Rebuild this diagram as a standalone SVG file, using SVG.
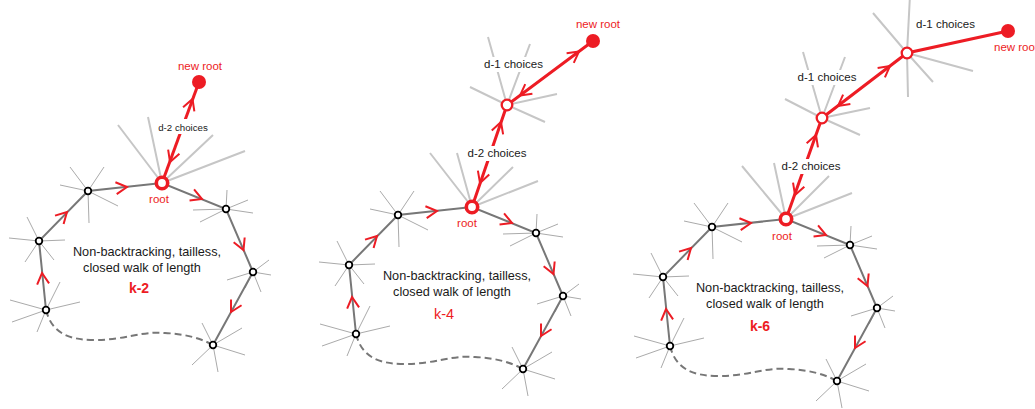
<svg xmlns="http://www.w3.org/2000/svg" xmlns:xlink="http://www.w3.org/1999/xlink" width="1035" height="409" viewBox="0 0 1035 409">
<style>
.edge{stroke:#777;stroke-width:2;fill:none}
.dash{stroke:#777;stroke-width:2;fill:none;stroke-dasharray:7,4}
.spk{stroke:#aaa;stroke-width:1;fill:none}
.rspk{stroke:#c6c6c6;stroke-width:2;fill:none}
.red{stroke:#ed1c24;stroke-width:3;fill:none}
.chev{fill:none;stroke:#ed1c24;stroke-width:2}
.node{fill:#fff;stroke:#000;stroke-width:1.8}
.ring{fill:#fff;stroke:#ed1c24;stroke-width:3.6}
.ring2{fill:#fff;stroke:#ed1c24;stroke-width:2.3}
.nr{fill:#ed1c24}
.t{font-family:"Liberation Sans",Arial,sans-serif;fill:#1a1a1a;font-size:12.7px;text-anchor:middle}
.lab{font-family:"Liberation Sans",Arial,sans-serif;fill:#1a1a1a;font-size:11.5px;text-anchor:middle}
.rt{font-family:"Liberation Sans",Arial,sans-serif;fill:#ed1c24;font-size:11.5px;text-anchor:middle}
.k{font-family:"Liberation Sans",Arial,sans-serif;fill:#ed1c24;font-size:14px;font-weight:bold;text-anchor:middle}
.bg{fill:#fff}
</style>
<defs>
<path id="chev" class="chev" d="M-11,-6 L0,0 L-11,6"/>
</defs>

<!-- ============ PANEL 1 ============ -->
<g id="panel1">
  <g id="p1-connectors">
    <path class="rspk" d="M162,183 L118,125 M162,183 L148,117 M162,183 L213,135 M162,183 L245,151"/>
    <line class="red" x1="162" y1="183" x2="199" y2="82"/>
    <use xlink:href="#chev" transform="translate(192.5,99) rotate(-69.9)"/>
    <use xlink:href="#chev" transform="translate(170,162) rotate(110.1)"/>
  </g>
  <g id="p1-loop">
    <g id="p1-loop-edges">
      <path class="spk" d="M88,191L60,185M88,191L70,167M88,191L104,167M88,191L118,206M88,191L89,223
        M39,241L9,238M39,241L27,217M39,241L65,240M39,241L54,260M39,241L25,262
        M46,310L10,300M46,310L60,282M46,310L80,302M46,310L12,322M46,310L37,332
        M226,209L193,210M226,209L200,222M226,209L227,190M226,209L248,200M226,209L253,213
        M253,272L227,280M253,272L269,260M253,272L271,275M253,272L261,292M253,272L245,288
        M213,345L202,323M213,345L242,328M213,345L245,355M213,345L218,372M213,345L192,365"/>
      <path class="edge" d="M46,310L39,241L88,191L162,183L226,209L253,272L213,345"/>
      <path class="dash" d="M46,310 C52,334 70,340 95,340 C125,340 140,331 165,333 C185,334 200,338 213,345"/>
      <use xlink:href="#chev" transform="translate(42,273) rotate(-95.8)"/>
      <use xlink:href="#chev" transform="translate(67,212) rotate(-45.6)"/>
      <use xlink:href="#chev" transform="translate(127,187) rotate(-6.2)"/>
      <use xlink:href="#chev" transform="translate(202,199) rotate(22.1)"/>
      <use xlink:href="#chev" transform="translate(243.5,250) rotate(66.8)"/>
      <use xlink:href="#chev" transform="translate(231,312) rotate(118.7)"/>
    </g>
    <g id="p1-a"><circle class="node" cx="88" cy="191" r="3.3"/></g>
    <g id="p1-b"><circle class="node" cx="39" cy="241" r="3.3"/></g>
    <g id="p1-c"><circle class="node" cx="46" cy="310" r="3.3"/></g>
    <g id="p1-r1"><circle class="node" cx="226" cy="209" r="3.3"/></g>
    <g id="p1-r2"><circle class="node" cx="253" cy="272" r="3.3"/></g>
    <g id="p1-br"><circle class="node" cx="213" cy="345" r="3.3"/></g>
    <text class="t" x="147" y="256">Non-backtracking, tailless,</text>
    <text class="t" x="142" y="272">closed walk of length</text>
    <text class="k" x="139" y="293">k-2</text>
  </g>
  <g id="p1-label">
    <rect class="bg" x="157" y="119" width="52" height="15"/>
    <text class="lab" x="183" y="131" style="font-size:9.7px">d-2 choices</text>
  </g>
  <g id="p1-root"><circle class="ring" cx="162" cy="183" r="5.7"/><text class="rt" x="159" y="203">root</text></g>
  <g id="p1-newroot"><circle class="nr" cx="199" cy="82" r="7"/><text class="rt" x="200" y="70">new root</text></g>
</g>

<!-- ============ PANEL 2 ============ -->
<g id="panel2">
  <g id="p2-connectors">
    <path class="rspk" d="M472,207L430,153M472,207L457,153M472,207L513,167M472,207L538,181
      M507,105L488,37M507,105L530,44M507,105L470,87M507,105L557,94M507,105L545,122"/>
    <path class="red" d="M472,207L507,105L593,41"/>
    <use xlink:href="#chev" transform="translate(501,122) rotate(-71.1)"/>
    <use xlink:href="#chev" transform="translate(480,183) rotate(108.9)"/>
    <use xlink:href="#chev" transform="translate(579,51.5) rotate(-36.7)"/>
    <use xlink:href="#chev" transform="translate(520,95.5) rotate(143.3)"/>
  </g>
  <g id="p2-loop" transform="translate(310,24)">
    <g id="p2-loop-edges">
      <path class="spk" d="M88,191L60,185M88,191L70,167M88,191L104,167M88,191L118,206M88,191L89,223
        M39,241L9,238M39,241L27,217M39,241L65,240M39,241L54,260M39,241L25,262
        M46,310L10,300M46,310L60,282M46,310L80,302M46,310L12,322M46,310L37,332
        M226,209L193,210M226,209L200,222M226,209L227,190M226,209L248,200M226,209L253,213
        M253,272L227,280M253,272L269,260M253,272L271,275M253,272L261,292M253,272L245,288
        M213,345L202,323M213,345L242,328M213,345L245,355M213,345L218,372M213,345L192,365"/>
      <path class="edge" d="M46,310L39,241L88,191L162,183L226,209L253,272L213,345"/>
      <path class="dash" d="M46,310 C52,334 70,340 95,340 C125,340 140,331 165,333 C185,334 200,338 213,345"/>
      <use xlink:href="#chev" transform="translate(42,273) rotate(-95.8)"/>
      <use xlink:href="#chev" transform="translate(67,212) rotate(-45.6)"/>
      <use xlink:href="#chev" transform="translate(127,187) rotate(-6.2)"/>
      <use xlink:href="#chev" transform="translate(202,199) rotate(22.1)"/>
      <use xlink:href="#chev" transform="translate(243.5,250) rotate(66.8)"/>
      <use xlink:href="#chev" transform="translate(231,312) rotate(118.7)"/>
    </g>
    <g id="p2-a"><circle class="node" cx="88" cy="191" r="3.3"/></g>
    <g id="p2-b"><circle class="node" cx="39" cy="241" r="3.3"/></g>
    <g id="p2-c"><circle class="node" cx="46" cy="310" r="3.3"/></g>
    <g id="p2-r1"><circle class="node" cx="226" cy="209" r="3.3"/></g>
    <g id="p2-r2"><circle class="node" cx="253" cy="272" r="3.3"/></g>
    <g id="p2-br"><circle class="node" cx="213" cy="345" r="3.3"/></g>
    <text class="t" x="147" y="256">Non-backtracking, tailless,</text>
    <text class="t" x="142" y="272">closed walk of length</text>
    <text class="k" x="134" y="295" style="font-weight:normal;font-size:14.5px">k-4</text>
  </g>
  <g id="p2-labels">
    <rect class="bg" x="467" y="146" width="60" height="15"/>
    <text class="lab" x="497" y="157">d-2 choices</text>
    <rect class="bg" x="483" y="57" width="61" height="15"/>
    <text class="lab" x="513.5" y="68">d-1 choices</text>
  </g>
  <g id="p2-root"><circle class="ring" cx="472" cy="207" r="5.7"/><text class="rt" x="467" y="227">root</text></g>
  <g id="p2-mid"><circle class="ring2" cx="507" cy="105" r="5.3"/></g>
  <g id="p2-newroot"><circle class="nr" cx="593" cy="41" r="7"/><text class="rt" x="598" y="28">new root</text></g>
</g>

<!-- ============ PANEL 3 ============ -->
<g id="panel3">
  <g id="p3-connectors">
    <path class="rspk" d="M786,219L742,166M786,219L774,163M786,219L829,176M786,219L852,193
      M822,118L803,52M822,118L845,57M822,118L785,99M822,118L870,108M822,118L860,135
      M907,53L873,13M907,53L910,-5M907,53L973,71M907,53L933,82M907,53L908,97"/>
    <path class="red" d="M786,219L822,118L907,53L1008,31"/>
    <use xlink:href="#chev" transform="translate(816,135) rotate(-70.4)"/>
    <use xlink:href="#chev" transform="translate(795,195) rotate(109.6)"/>
    <use xlink:href="#chev" transform="translate(890,66) rotate(-37.4)"/>
    <use xlink:href="#chev" transform="translate(838,106) rotate(142.6)"/>
  </g>
  <g id="p3-loop" transform="translate(624,36)">
    <g id="p3-loop-edges">
      <path class="spk" d="M88,191L60,185M88,191L70,167M88,191L104,167M88,191L118,206M88,191L89,223
        M39,241L9,238M39,241L27,217M39,241L65,240M39,241L54,260M39,241L25,262
        M46,310L10,300M46,310L60,282M46,310L80,302M46,310L12,322M46,310L37,332
        M226,209L193,210M226,209L200,222M226,209L227,190M226,209L248,200M226,209L253,213
        M253,272L227,280M253,272L269,260M253,272L271,275M253,272L261,292M253,272L245,288
        M213,345L202,323M213,345L242,328M213,345L245,355M213,345L218,372M213,345L192,365"/>
      <path class="edge" d="M46,310L39,241L88,191L162,183L226,209L253,272L213,345"/>
      <path class="dash" d="M46,310 C52,334 70,340 95,340 C125,340 140,331 165,333 C185,334 200,338 213,345"/>
      <use xlink:href="#chev" transform="translate(42,273) rotate(-95.8)"/>
      <use xlink:href="#chev" transform="translate(67,212) rotate(-45.6)"/>
      <use xlink:href="#chev" transform="translate(127,187) rotate(-6.2)"/>
      <use xlink:href="#chev" transform="translate(202,199) rotate(22.1)"/>
      <use xlink:href="#chev" transform="translate(243.5,250) rotate(66.8)"/>
      <use xlink:href="#chev" transform="translate(231,312) rotate(118.7)"/>
    </g>
    <g id="p3-a"><circle class="node" cx="88" cy="191" r="3.3"/></g>
    <g id="p3-b"><circle class="node" cx="39" cy="241" r="3.3"/></g>
    <g id="p3-c"><circle class="node" cx="46" cy="310" r="3.3"/></g>
    <g id="p3-r1"><circle class="node" cx="226" cy="209" r="3.3"/></g>
    <g id="p3-r2"><circle class="node" cx="253" cy="272" r="3.3"/></g>
    <g id="p3-br"><circle class="node" cx="213" cy="345" r="3.3"/></g>
    <text class="t" x="146" y="256">Non-backtracking, tailless,</text>
    <text class="t" x="141" y="272">closed walk of length</text>
    <text class="k" x="136" y="295">k-6</text>
  </g>
  <g id="p3-labels">
    <rect class="bg" x="781" y="159" width="60" height="15"/>
    <text class="lab" x="811" y="170">d-2 choices</text>
    <rect class="bg" x="797" y="70" width="61" height="15"/>
    <text class="lab" x="827" y="81">d-1 choices</text>
    <rect class="bg" x="915" y="17" width="61" height="15"/>
    <text class="lab" x="945.5" y="28">d-1 choices</text>
  </g>
  <g id="p3-root"><circle class="ring" cx="786" cy="219" r="5.7"/><text class="rt" x="782" y="240">root</text></g>
  <g id="p3-mid1"><circle class="ring2" cx="822" cy="118" r="5.3"/></g>
  <g id="p3-mid2"><circle class="ring2" cx="907" cy="53" r="5.3"/></g>
  <g id="p3-newroot"><circle class="nr" cx="1008" cy="31" r="7"/><text class="rt" x="994" y="51" style="text-anchor:start">new root</text></g>
</g>
</svg>
